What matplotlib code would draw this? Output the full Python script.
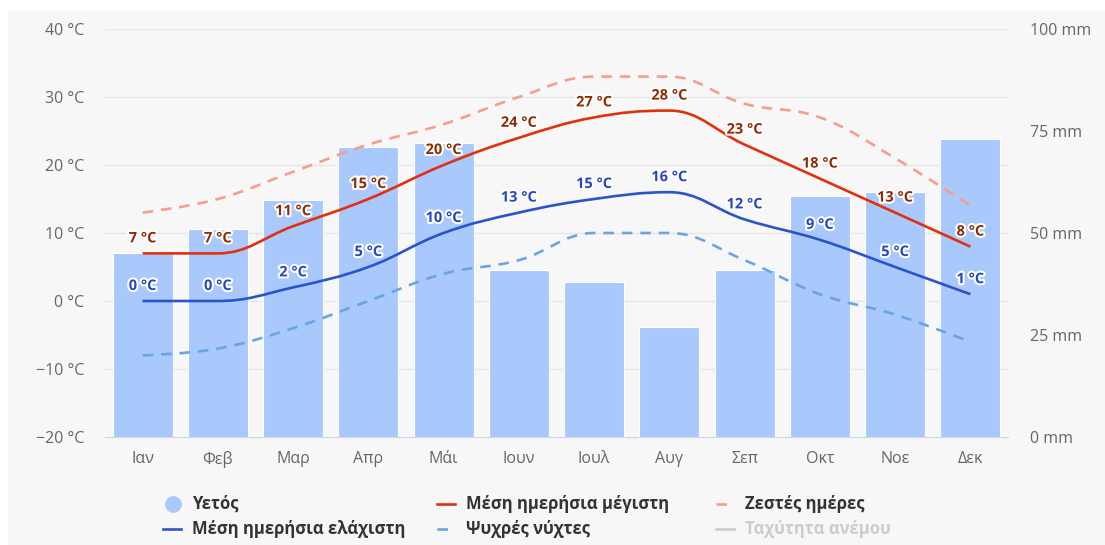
import matplotlib
matplotlib.use('Agg')
import matplotlib.pyplot as plt
from matplotlib.path import Path
from matplotlib.patches import PathPatch, Rectangle
from matplotlib.lines import Line2D
import matplotlib.patheffects as pe

# ---------------- data ----------------
months = ['Ιαν', 'Φεβ', 'Μαρ', 'Απρ', 'Μάι', 'Ιουν', 'Ιουλ', 'Αυγ', 'Σεπ', 'Οκτ', 'Νοε', 'Δεκ']
precip_mm = [45, 51, 58, 71, 72, 41, 38, 27, 41, 59, 60, 73]
mean_max = [7, 7, 11, 15, 20, 24, 27, 28, 23, 18, 13, 8]
mean_min = [0, 0, 2, 5, 10, 13, 15, 16, 12, 9, 5, 1]
hot_days = [13, 15, 19, 23, 26, 30, 33, 33, 29, 27, 21, 14]
cold_nights = [-8, -7, -4, 0, 4, 6, 10, 10, 6, 1, -2, -6]
temp_ticks = [-20, -10, 0, 10, 20, 30, 40]
precip_ticks = [0, 25, 50, 75, 100]
legend_labels = ['Υετός', 'Μέση ημερήσια μέγιστη', 'Ζεστές ημέρες',
                 'Μέση ημερήσια ελάχιστη', 'Ψυχρές νύχτες', 'Ταχύτητα ανέμου']

# ---------------- style ----------------
W, H = 1105, 545
plt.rcParams['font.family'] = ['Open Sans', 'DejaVu Sans']
C_BAR = '#a9c8fc'
C_MAX = '#e0310f'
C_MIN = '#2a55c8'
C_HOT = '#f89c8b'
C_COLD = '#6aa5e3'
C_MAXLBL = '#8c2d04'
C_MINLBL = '#2546c2'
C_WIND = '#cccccc'

fig = plt.figure(figsize=(W / 100, H / 100), dpi=100, facecolor='white')
fig.patches.append(Rectangle((8 / W, 0), 1 - 8 / W, 1 - 10 / H, transform=fig.transFigure,
                             facecolor='#f7f7f7', edgecolor='none', zorder=-10))

def px_rect(x0, y0, x1, y1):
    return [x0 / W, 1 - y1 / H, (x1 - x0) / W, (y1 - y0) / H]

ax_p = fig.add_axes(px_rect(105, 29, 1008, 437))
ax_t = ax_p.twinx()
ax_p.set_zorder(1)
ax_t.set_zorder(2)
ax_t.patch.set_visible(False)
ax_p.patch.set_visible(False)

x = list(range(len(months)))

# precipitation bars
ax_p.bar(x, precip_mm, width=0.8, color=C_BAR, edgecolor='white', linewidth=0.8, zorder=2)
ax_p.set_ylim(0, 100)
ax_p.set_xlim(-0.5, len(months) - 0.5)
ax_p.yaxis.tick_right()
ax_p.set_yticks(precip_ticks)
ax_p.set_yticklabels([f'{v} mm' for v in precip_ticks])

# temperature axis on left
ax_t.yaxis.tick_left()
ax_t.set_ylim(-20, 40)
ax_t.set_yticks(temp_ticks)
ax_t.set_yticklabels([f'{v} °C'.replace('-', '\u2212') for v in temp_ticks])
for v in temp_ticks[1:]:
    ax_p.axhline((v + 20) * 100 / 60, color='#e6e6e6', lw=1, zorder=0)

for a in (ax_p, ax_t):
    for s in a.spines.values():
        s.set_visible(False)
    a.tick_params(length=0, labelsize=11.5, labelcolor='#666666')
ax_p.tick_params(axis='y', pad=16)
ax_t.tick_params(axis='y', pad=15)
ax_p.spines['bottom'].set_visible(True)
ax_p.spines['bottom'].set_color('#ccd6eb')
ax_p.set_xticks(x)
ax_p.set_xticklabels(months)
ax_p.tick_params(axis='x', pad=10)


def spline_path(xs, ys, smoothing=1.5):
    n = len(xs)
    lc = [None] * n
    rc = [None] * n
    d = smoothing + 1
    for i in range(1, n - 1):
        px, py = xs[i], ys[i]
        lx, ly = xs[i - 1], ys[i - 1]
        nx, ny = xs[i + 1], ys[i + 1]
        lcx = (smoothing * px + lx) / d
        lcy = (smoothing * py + ly) / d
        rcx = (smoothing * px + nx) / d
        rcy = (smoothing * py + ny) / d
        if rcx != lcx:
            corr = ((rcy - lcy) * (rcx - px)) / (rcx - lcx) + py - rcy
            lcy += corr
            rcy += corr
        if lcy > ly and lcy > py:
            lcy = max(ly, py); rcy = 2 * py - lcy
        elif lcy < ly and lcy < py:
            lcy = min(ly, py); rcy = 2 * py - lcy
        if rcy > ny and rcy > py:
            rcy = max(ny, py); lcy = 2 * py - rcy
        elif rcy < ny and rcy < py:
            rcy = min(ny, py); lcy = 2 * py - rcy
        lc[i] = (lcx, lcy)
        rc[i] = (rcx, rcy)
    verts = [(xs[0], ys[0])]
    codes = [Path.MOVETO]
    for i in range(1, n):
        c1 = rc[i - 1] if rc[i - 1] else (xs[i - 1], ys[i - 1])
        c2 = lc[i] if lc[i] else (xs[i], ys[i])
        verts += [c1, c2, (xs[i], ys[i])]
        codes += [Path.CURVE4] * 3
    return Path(verts, codes)


def draw_series(vals, color, ls, z):
    ax_t.add_patch(PathPatch(spline_path(x, vals), fill=False, edgecolor=color, lw=1.9,
                             linestyle=ls, capstyle='butt', joinstyle='round', zorder=z))

dash = (0, (4, 3))
draw_series(hot_days, C_HOT, dash, 3)
draw_series(cold_nights, C_COLD, dash, 3)
draw_series(mean_max, C_MAX, '-', 4)
draw_series(mean_min, C_MIN, '-', 4)

outline = [pe.withStroke(linewidth=3, foreground='white')]
for i in x:
    ax_t.annotate(f'{mean_max[i]} °C', (i, mean_max[i]), xytext=(0, 15), textcoords='offset pixels',
                  ha='center', va='center', fontsize=10.5, fontweight='bold', color=C_MAXLBL,
                  path_effects=outline, zorder=6)
    ax_t.annotate(f'{mean_min[i]} °C', (i, mean_min[i]), xytext=(0, 15), textcoords='offset pixels',
                  ha='center', va='center', fontsize=10.5, fontweight='bold', color=C_MINLBL,
                  path_effects=outline, zorder=6)

# ---------------- legend (manual, Highcharts-like) ----------------
def fx(px):
    return px / W

def fy(py):
    return 1 - py / H

leg_items = [
    (legend_labels[0], 'circle', C_BAR, 163, 504),
    (legend_labels[1], '-', C_MAX, 437, 504),
    (legend_labels[2], 'dash', C_HOT, 716, 504),
    (legend_labels[3], '-', C_MIN, 163, 529),
    (legend_labels[4], 'dash', C_COLD, 437, 529),
    (legend_labels[5], '-', C_WIND, 716, 529),
]
for label, kind, col, lx, ly in leg_items:
    if kind == 'circle':
        fig.add_artist(Line2D([fx(lx + 10)], [fy(ly)], marker='o', markersize=11,
                              color=col, linestyle='none', transform=fig.transFigure))
    else:
        fig.add_artist(Line2D([fx(lx), fx(lx + 18)], [fy(ly), fy(ly)], color=col, lw=1.9,
                              linestyle=dash if kind == 'dash' else '-',
                              transform=fig.transFigure))
    tcol = '#cccccc' if label == legend_labels[5] else '#333333'
    fig.text(fx(lx + 29), fy(ly), label, ha='left', va='center', fontsize=12,
             fontweight='bold', color=tcol)

fig.savefig('out.png', dpi=100, facecolor=fig.get_facecolor())
